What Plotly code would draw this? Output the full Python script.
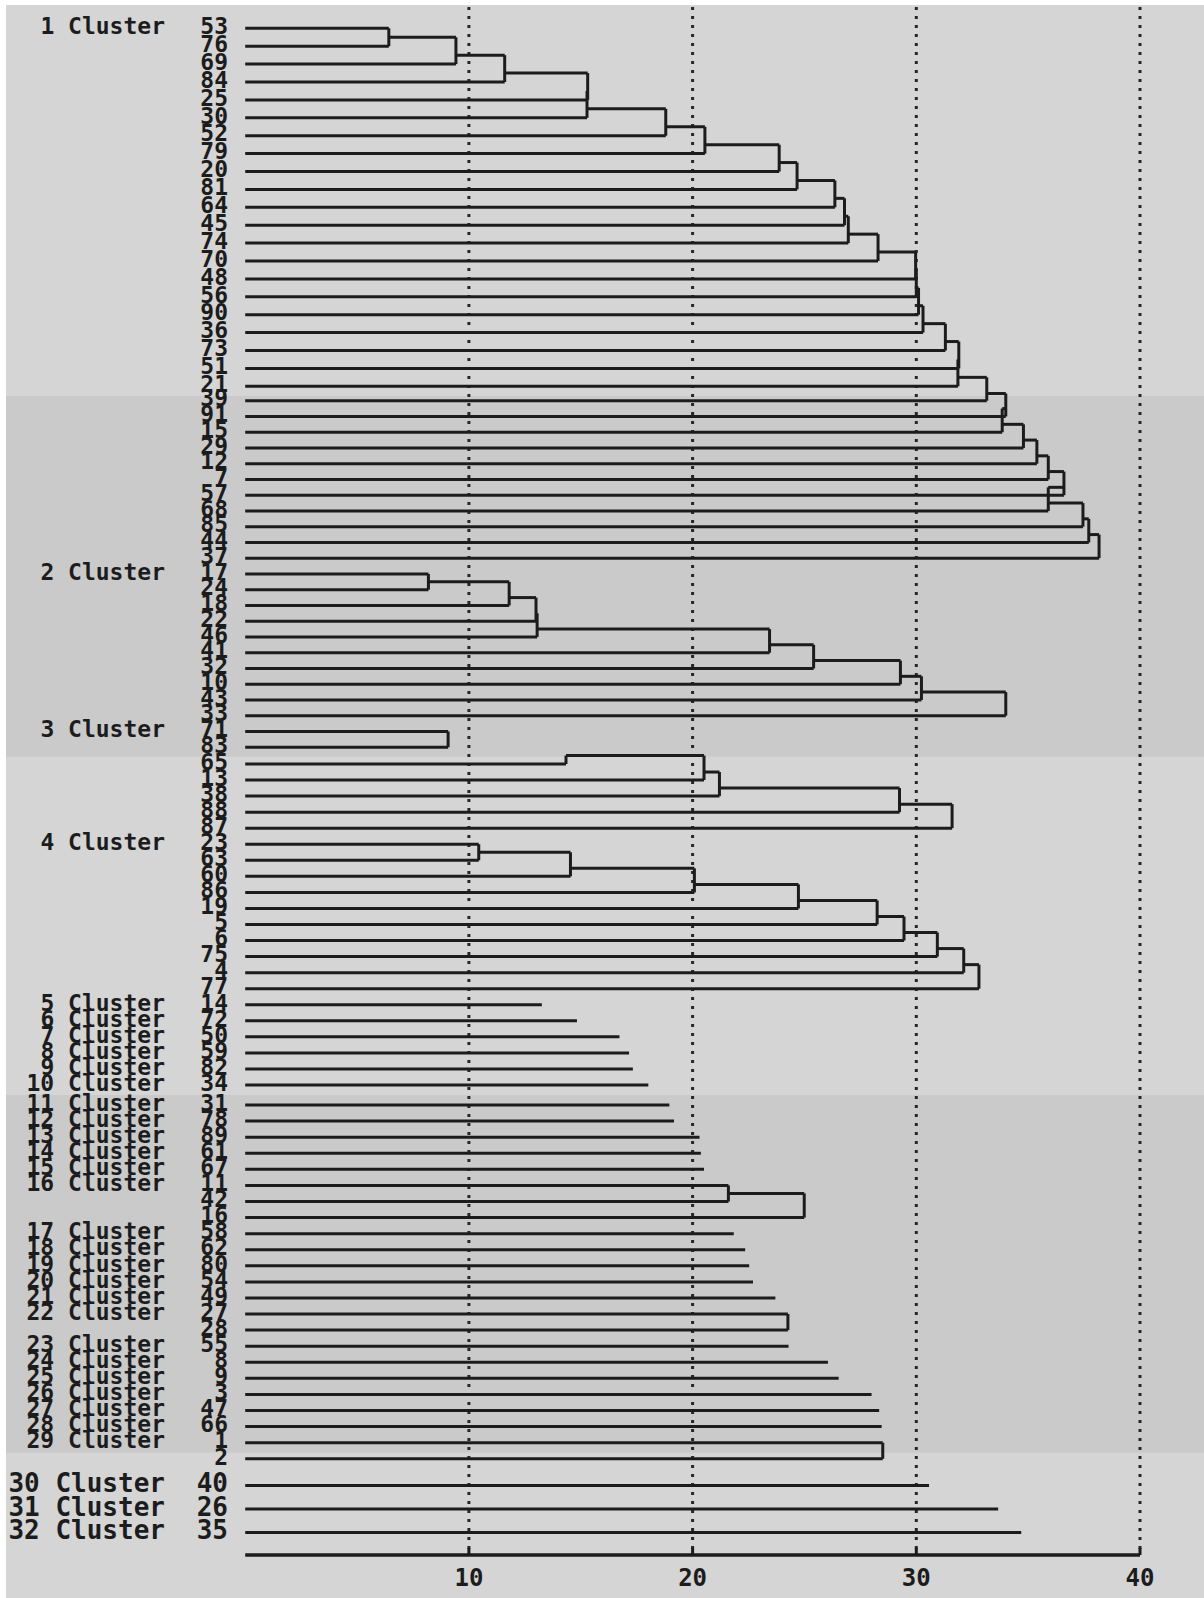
import plotly.graph_objects as go

# ---------------- data: leaf order and merge distances ----------------
# Cluster 1: agglomerated one object at a time (chain)
c1_leaves = [53, 76, 69, 84, 25, 30, 52, 79, 20, 81, 64, 45, 74, 70, 48, 56,
             90, 36, 73, 51, 21, 39, 91, 15, 29, 12, 7, 57, 68, 85, 44, 37]
c1_heights = [6.42, 9.42, 11.6, 15.31, 15.28, 18.8, 20.55, 23.87, 24.67, 26.36,
              26.79, 26.96, 28.29, 29.97, 30.0, 30.1, 30.3, 31.3, 31.9, 31.86,
              33.15, 34.0, 33.84, 34.79, 35.39, 35.9, 36.6, 35.9, 37.45, 37.71,
              38.17]

c2_leaves = [17, 24, 18, 22, 46, 41, 32, 10, 43, 33]
c2_heights = [8.19, 11.8, 13.0, 13.05, 23.44, 25.41, 29.29, 30.23, 34.0]

c3_leaves = [71, 83]
c3_heights = [9.07]

# unlabelled branch, object 65 enters at 14.34
c4a_leaves = [65, 13, 38, 88, 87]
c4a_lead = 14.34
c4a_heights = [20.51, 21.2, 29.25, 31.6]

c4b_leaves = [23, 63, 60, 86, 19, 5, 6, 75, 4, 77]
c4b_heights = [10.44, 14.54, 20.08, 24.73, 28.25, 29.45, 30.94, 32.12, 32.8]

single_a_leaves = [14, 72, 50, 59, 82, 34, 31, 78, 89, 61, 67]
single_a_heights = [13.26, 14.83, 16.73, 17.16, 17.33, 18.02, 18.96, 19.17,
                    20.31, 20.37, 20.51]

c16_leaves = [11, 42, 16]
c16_heights = [21.6, 24.99]

single_b_leaves = [58, 62, 80, 54, 49]
single_b_heights = [21.84, 22.35, 22.53, 22.7, 23.7]

c22_leaves = [27, 28]
c22_heights = [24.26]

single_c_leaves = [55, 8, 9, 3, 47, 66]
single_c_heights = [24.29, 26.05, 26.53, 28.0, 28.34, 28.45]

c29_leaves = [1, 2]
c29_heights = [28.5]

single_d_leaves = [40, 26, 35]
single_d_heights = [30.57, 33.66, 34.69]

axis_ticks = [10, 20, 30, 40]

# ---------------- group sequence (top to bottom) ----------------
groups = [
    dict(label=True, leaves=c1_leaves, heights=c1_heights),
    dict(label=True, leaves=c2_leaves, heights=c2_heights),
    dict(label=True, leaves=c3_leaves, heights=c3_heights),
    dict(label=False, leaves=c4a_leaves, heights=c4a_heights, lead=c4a_lead),
    dict(label=True, leaves=c4b_leaves, heights=c4b_heights),
]
groups += [dict(label=True, leaves=[l], heights=[], stem=h)
           for l, h in zip(single_a_leaves, single_a_heights)]
groups.append(dict(label=True, leaves=c16_leaves, heights=c16_heights))
groups += [dict(label=True, leaves=[l], heights=[], stem=h)
           for l, h in zip(single_b_leaves, single_b_heights)]
groups.append(dict(label=True, leaves=c22_leaves, heights=c22_heights))
groups += [dict(label=True, leaves=[l], heights=[], stem=h)
           for l, h in zip(single_c_leaves, single_c_heights)]
groups.append(dict(label=True, leaves=c29_leaves, heights=c29_heights))
groups += [dict(label=True, leaves=[l], heights=[], stem=h)
           for l, h in zip(single_d_leaves, single_d_heights)]

# ---------------- page geometry (pixels) ----------------
W, H = 1204, 1598
X0_PX = 245.2          # where distance 0 sits
PX_PER_UNIT = 22.37
x_lo = -X0_PX / PX_PER_UNIT
x_hi = (W - X0_PX) / PX_PER_UNIT


def px_to_x(px):
    return (px - X0_PX) / PX_PER_UNIT


# row pitch differs per screen block of the listing
blocks = [(0, 28.3, 17.9), (21, 400.7, 15.75), (44, 764.0, 16.05),
          (65, 1105.0, 16.08), (88, 1485.5, 23.5)]


def row_y(i):
    start, y0, pitch = [b for b in blocks if b[0] <= i][-1]
    return y0 + pitch * (i - start)


AXIS_Y = 1555
TICKLABEL_Y = 1580
GRID_TOP = 7

# ---------------- build line segments and labels ----------------
seg_x, seg_y = [], []


def seg(x0, y0, x1, y1):
    seg_x.extend([x0, x1, None])
    seg_y.extend([y0, y1, None])


leaf_text, leaf_y, leaf_size = [], [], []
clus_text, clus_y, clus_size = [], [], []
row = 0
cluster_no = 0
for g in groups:
    leaves = g["leaves"]
    ys = [row_y(row + k) for k in range(len(leaves))]
    for k, leaf in enumerate(leaves):
        leaf_text.append(str(leaf))
        leaf_y.append(ys[k])
        leaf_size.append(26 if row + k >= 88 else 23)
    if g["label"]:
        cluster_no += 1
        clus_text.append(f"{cluster_no} Cluster")
        clus_y.append(ys[0])
        clus_size.append(26 if row >= 88 else 23)

    if len(leaves) == 1:
        seg(0, ys[0], g["stem"], ys[0])
    else:
        if g.get("lead") is not None:
            cur_x = g["lead"]
            seg(0, ys[0], cur_x, ys[0])
            cur_y = (row_y(row - 1) + ys[0]) / 2
            seg(cur_x, ys[0], cur_x, cur_y)
        else:
            cur_x, cur_y = 0, ys[0]
        for k in range(1, len(leaves)):
            h = g["heights"][k - 1]
            seg(cur_x, cur_y, h, cur_y)
            seg(0, ys[k], h, ys[k])
            seg(h, cur_y, h, ys[k])
            cur_x, cur_y = h, (ys[k - 1] + ys[k]) / 2
    row += len(leaves)

INK = "#1c1c1c"
FONT = "DejaVu Sans Mono"

fig = go.Figure()

# dotted reference lines at the tick distances
for t in axis_ticks:
    fig.add_trace(go.Scatter(
        x=[t, t], y=[GRID_TOP, AXIS_Y], mode="lines",
        line=dict(color="#262626", width=3, dash="3px,6px"),
        hoverinfo="skip", showlegend=False))

# dendrogram branches
fig.add_trace(go.Scatter(
    x=seg_x, y=seg_y, mode="lines",
    line=dict(color=INK, width=3), hoverinfo="skip", showlegend=False))

# distance axis
fig.add_trace(go.Scatter(
    x=[0, axis_ticks[-1]], y=[AXIS_Y, AXIS_Y], mode="lines",
    line=dict(color=INK, width=3.5), hoverinfo="skip", showlegend=False))
tick_x, tick_y = [], []
for t in axis_ticks:
    tick_x += [t, t, None]
    tick_y += [AXIS_Y, AXIS_Y - 7, None]
fig.add_trace(go.Scatter(
    x=tick_x, y=tick_y, mode="lines",
    line=dict(color=INK, width=3), hoverinfo="skip", showlegend=False))
fig.add_trace(go.Scatter(
    x=axis_ticks, y=[TICKLABEL_Y] * len(axis_ticks), mode="text",
    text=[str(t) for t in axis_ticks], textposition="middle center",
    textfont=dict(family=FONT, size=24, color=INK, weight="bold"),
    hoverinfo="skip", showlegend=False))

# object numbers
fig.add_trace(go.Scatter(
    x=[px_to_x(228)] * len(leaf_text), y=leaf_y, mode="text",
    text=leaf_text, textposition="middle left",
    textfont=dict(family=FONT, size=leaf_size, color=INK, weight="bold"),
    hoverinfo="skip", showlegend=False))

# cluster names
fig.add_trace(go.Scatter(
    x=[px_to_x(165)] * len(clus_text), y=clus_y, mode="text",
    text=clus_text, textposition="middle left",
    textfont=dict(family=FONT, size=clus_size, color=INK, weight="bold"),
    hoverinfo="skip", showlegend=False))

LIGHT = "#d5d5d5"
DARK = "#cacaca"
shapes = [
    dict(type="rect", xref="paper", yref="y", x0=6 / W, x1=1.0,
         y0=5, y1=H, fillcolor=LIGHT, line=dict(width=0), layer="below"),
    dict(type="rect", xref="paper", yref="y", x0=6 / W, x1=1.0,
         y0=396, y1=756.7, fillcolor=DARK, line=dict(width=0), layer="below"),
    dict(type="rect", xref="paper", yref="y", x0=6 / W, x1=1.0,
         y0=1095, y1=1452.7, fillcolor=DARK, line=dict(width=0), layer="below"),
]

fig.update_layout(
    width=W, height=H,
    margin=dict(l=0, r=0, t=0, b=0),
    paper_bgcolor="white", plot_bgcolor="white",
    shapes=shapes,
    xaxis=dict(range=[x_lo, x_hi], visible=False, fixedrange=True),
    yaxis=dict(range=[H, 0], visible=False, fixedrange=True),
    showlegend=False,
)

fig.write_html("out.html")
